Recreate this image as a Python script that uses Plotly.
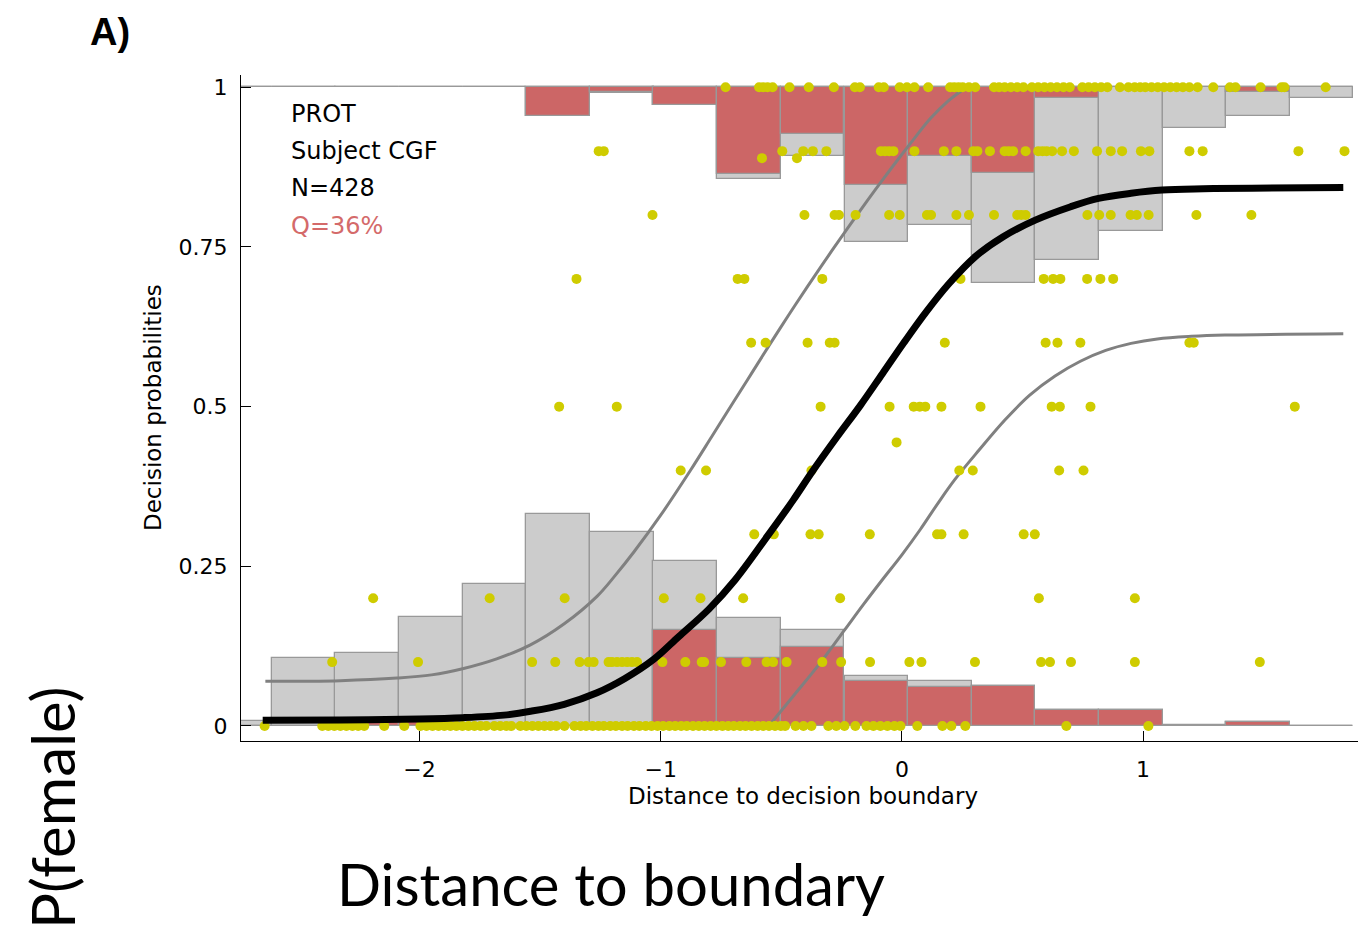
import plotly.graph_objects as go

# ---- histogram bins (distance to decision boundary) ----
bin_width = 0.2638
bin_centers = [-2.744, -2.480, -2.217, -1.953, -1.689, -1.425, -1.161, -0.898, -0.634,
               -0.370, -0.106, 0.158, 0.421, 0.685, 0.949, 1.213, 1.477, 1.740]
# bars rising from 0
low_all = [0.008, 0.106, 0.115, 0.170, 0.223, 0.332, 0.304, 0.259, 0.169,
           0.151, 0.079, 0.070, 0.062, 0.025, 0.025, 0.002, 0.007, 0.0]
low_red = [0.0, 0.0, 0.006, 0.006, 0.0, 0.0, 0.0, 0.150, 0.106,
           0.124, 0.070, 0.061, 0.062, 0.025, 0.025, 0.0, 0.007, 0.0]
# bars hanging from 1
high_all = [0.0, 0.0, 0.0, 0.0, 0.0, 0.045, 0.009, 0.027, 0.144,
            0.108, 0.243, 0.216, 0.307, 0.270, 0.225, 0.063, 0.045, 0.017]
high_red = [0.0, 0.0, 0.0, 0.0, 0.0, 0.045, 0.007, 0.027, 0.136,
            0.073, 0.153, 0.108, 0.135, 0.017, 0.0, 0.0, 0.008, 0.0]

# ---- fitted psychometric curve and its bounds ----
fit_x = [-2.65, -2.33, -2.0, -1.82, -1.65, -1.54, -1.40, -1.264, -1.15, -1.03, -0.925,
         -0.80, -0.691, -0.556, -0.45, -0.372, -0.27, -0.172, -0.08, 0.008, 0.10, 0.194,
         0.305, 0.42, 0.553, 0.70, 0.815, 0.95, 1.079, 1.25, 1.45, 1.83]
fit_y = [0.009, 0.0095, 0.011, 0.013, 0.017, 0.023, 0.034, 0.052, 0.074, 0.104, 0.140,
         0.183, 0.229, 0.298, 0.354, 0.398, 0.452, 0.502, 0.552, 0.600, 0.648, 0.692,
         0.735, 0.766, 0.792, 0.813, 0.826, 0.834, 0.839, 0.841, 0.842, 0.843]
upper_x = [-2.639, -2.328, -2.093, -1.95, -1.817, -1.68, -1.540, -1.40, -1.264, -1.19,
           -1.112, -1.0, -0.877, -0.79, -0.697, -0.62, -0.545, -0.47, -0.393, -0.283,
           -0.144, -0.07, -0.006, 0.06, 0.118, 0.19, 0.256]
upper_y = [0.070, 0.071, 0.075, 0.080, 0.090, 0.105, 0.127, 0.160, 0.203, 0.235,
           0.272, 0.330, 0.400, 0.452, 0.508, 0.554, 0.599, 0.643, 0.687, 0.748,
           0.822, 0.860, 0.892, 0.924, 0.951, 0.978, 0.997]
lower_x = [-0.552, -0.45, -0.34, -0.238, -0.16, -0.081, 0.0, 0.077, 0.15, 0.22, 0.32,
           0.427, 0.53, 0.635, 0.74, 0.845, 0.95, 1.059, 1.2, 1.339, 1.83]
lower_y = [0.0, 0.047, 0.098, 0.150, 0.190, 0.229, 0.268, 0.308, 0.349, 0.386, 0.432,
           0.479, 0.518, 0.548, 0.571, 0.588, 0.599, 0.606, 0.610, 0.612, 0.614]

# ---- per-stimulus response proportions ----
levels = [1.0, 0.9, 0.889, 0.8, 0.7, 0.6, 0.5, 0.444, 0.4, 0.3, 0.2, 0.1, 0.0]
x_p100 = [-0.731, -0.592, -0.575, -0.557, -0.536, -0.466, -0.386, -0.282, -0.195, -0.174,
          -0.096, -0.075, -0.009, 0.021, 0.052, 0.109, 0.200, 0.217, 0.235, 0.252, 0.278,
          0.304, 0.382, 0.403, 0.426, 0.452, 0.478, 0.504, 0.539, 0.565, 0.591, 0.617,
          0.643, 0.670, 0.696, 0.748, 0.774, 0.800, 0.826, 0.852, 0.904, 0.939, 0.965,
          0.988, 1.009, 1.035, 1.061, 1.087, 1.113, 1.139, 1.165, 1.192, 1.226, 1.291,
          1.360, 1.383, 1.487, 1.574, 1.586, 1.757]
x_p90 = [-1.257, -1.236, -0.496, -0.409, -0.369, -0.313, -0.087, -0.070, -0.053, -0.035,
         0.052, 0.174, 0.226, 0.296, 0.313, 0.365, 0.426, 0.443, 0.461, 0.513, 0.565,
         0.583, 0.600, 0.623, 0.664, 0.713, 0.809, 0.866, 0.913, 0.991, 1.026, 1.192,
         1.247, 1.644, 1.835]
x_p89 = [-0.580, -0.435]
x_p80 = [-1.034, -0.404, -0.279, -0.261, -0.192, -0.053, -0.009, 0.104, 0.121, 0.226,
         0.278, 0.382, 0.478, 0.495, 0.513, 0.769, 0.818, 0.866, 0.948, 0.974, 1.023,
         1.221, 1.449]
x_p70 = [-1.349, -0.681, -0.653, -0.330, 0.243, 0.588, 0.627, 0.657, 0.768, 0.823, 0.876]
x_p60 = [-0.625, -0.565, -0.391, -0.299, -0.279, 0.178, 0.596, 0.645, 0.740, 1.192, 1.210]
x_p50 = [-1.421, -1.182, -0.337, -0.051, 0.049, 0.074, 0.097, 0.164, 0.326, 0.621,
         0.655, 0.782, 1.629]
x_p44 = [-0.022]
x_p40 = [-0.917, -0.812, -0.375, 0.238, 0.294, 0.652, 0.753]
x_p30 = [-0.612, -0.531, -0.379, -0.345, -0.133, 0.146, 0.164, 0.256, 0.505, 0.551]
x_p20 = [-2.192, -1.709, -1.398, -0.987, -0.835, -0.658, -0.256, 0.568, 0.966]
x_p10 = [-2.362, -2.006, -1.533, -1.437, -1.336, -1.299, -1.278, -1.216, -1.202, -1.181,
         -1.160, -1.139, -1.119, -1.098, -0.993, -0.898, -0.830, -0.820, -0.750, -0.645,
         -0.561, -0.534, -0.478, -0.330, -0.252, -0.132, 0.031, 0.081, 0.303, 0.577,
         0.614, 0.701, 0.966, 1.484]
x_p0 = [-2.642,
        -2.403, -2.378, -2.353, -2.328, -2.303, -2.278, -2.254, -2.229,
        -2.146, -2.063,
        -1.996, -1.971, -1.946, -1.921, -1.897, -1.872, -1.847, -1.822, -1.797, -1.772,
        -1.747, -1.723,
        -1.690, -1.665, -1.640, -1.619,
        -1.582, -1.557, -1.532, -1.507, -1.482, -1.457, -1.433, -1.399,
        -1.358, -1.332, -1.309, -1.283, -1.258, -1.236, -1.209, -1.186, -1.160, -1.137,
        -1.111, -1.088, -1.062, -1.038, -1.013, -0.990, -0.964, -0.940, -0.915, -0.892,
        -0.866, -0.842, -0.818, -0.793, -0.769, -0.744, -0.720, -0.697, -0.671, -0.648,
        -0.623, -0.598, -0.575, -0.551, -0.526, -0.502, -0.484,
        -0.441, -0.408, -0.375, -0.305, -0.272, -0.238, -0.193, -0.147, -0.118, -0.089,
        -0.060, -0.031, -0.006, 0.064, 0.168, 0.205, 0.263, 0.682, 1.022]
rows = [x_p100, x_p90, x_p89, x_p80, x_p70, x_p60, x_p50, x_p44, x_p40, x_p30,
        x_p20, x_p10, x_p0]

tick_vals_x = [-2, -1, 0, 1]
tick_vals_y = [0, 0.25, 0.5, 0.75, 1]
tick_text_y = ["0", "0.25", "0.5", "0.75", "1"]

GRAY_FILL = "#cccccc"
RED_FILL = "#cc6666"
EDGE = "#999999"
DOT = "#cfcc00"
TXT_FONT = "DejaVu Sans"

fig = go.Figure()

edge = dict(color=EDGE, width=1.3)
fig.add_bar(x=bin_centers, y=low_all, width=bin_width,
            marker=dict(color=GRAY_FILL, line=edge, opacity=1))
fig.add_bar(x=bin_centers, y=low_red, width=bin_width,
            marker=dict(color=RED_FILL, line=edge, opacity=1))
fig.add_bar(x=bin_centers, y=high_all, base=[1 - d for d in high_all], width=bin_width,
            marker=dict(color=GRAY_FILL, line=edge, opacity=1))
fig.add_bar(x=bin_centers, y=high_red, base=[1 - d for d in high_red], width=bin_width,
            marker=dict(color=RED_FILL, line=edge, opacity=1))

curve_gray = dict(color="#808080", width=3, shape="spline", smoothing=1.0)
fig.add_scatter(x=upper_x, y=upper_y, mode="lines", line=curve_gray)
fig.add_scatter(x=lower_x, y=lower_y, mode="lines", line=curve_gray)

dot_x, dot_y = [], []
for lvl, xs in zip(levels, rows):
    dot_x += xs
    dot_y += [lvl] * len(xs)
fig.add_scatter(x=dot_x, y=dot_y, mode="markers",
                marker=dict(color=DOT, size=10, line=dict(width=0)))

fig.add_scatter(x=fit_x, y=fit_y, mode="lines",
                line=dict(color="black", width=7, shape="spline", smoothing=1.0))

# ---- layout ----
L, T, W, H = 241, 75, 1117, 666
fig.update_layout(
    width=1358, height=935,
    margin=dict(l=L, r=1358 - L - W, t=T, b=935 - T - H, pad=0),
    paper_bgcolor="white", plot_bgcolor="white",
    barmode="overlay", bargap=0, showlegend=False,
    font=dict(family=TXT_FONT, color="black"),
)
fig.update_xaxes(range=[-2.74, 1.891], tickvals=tick_vals_x, ticks="inside", ticklen=10,
                 tickwidth=1.3, tickcolor="black", showline=True, linecolor="black",
                 linewidth=1.3, showgrid=False, zeroline=False,
                 tickfont=dict(family=TXT_FONT, size=22, color="black"),
                 ticklabelstandoff=8)
fig.update_yaxes(range=[-0.0235, 1.0192], tickvals=tick_vals_y, ticktext=tick_text_y,
                 ticks="inside", ticklen=10, tickwidth=1.3, tickcolor="black",
                 showline=True, linecolor="black", linewidth=1.3, showgrid=False,
                 zeroline=False, tickfont=dict(family=TXT_FONT, size=22, color="black"),
                 ticklabelstandoff=8)


def px_x(p):
    return (p - L) / W


def px_y(p):
    return (T + H - p) / H


annots = [
    dict(text="A)", x=px_x(110), y=px_y(32),
         font=dict(family="Liberation Sans", size=38, color="black", weight="bold")),
    dict(text="Decision probabilities", x=px_x(153), y=px_y(408), textangle=-90,
         font=dict(family=TXT_FONT, size=23, color="black")),
    dict(text="Distance to decision boundary", x=px_x(803), y=px_y(796),
         font=dict(family=TXT_FONT, size=23, color="black")),
    dict(text="Distance to boundary", x=px_x(611), y=px_y(883),
         font=dict(family="Lato", size=58, color="black")),
    dict(text="P(female)", x=px_x(52), y=px_y(808), textangle=-90,
         font=dict(family="Lato", size=60, color="black")),
]
for a in annots:
    fig.add_annotation(xref="paper", yref="paper", showarrow=False,
                       xanchor="center", yanchor="middle", **a)

info_lines = [("PROT", 114, "black"), ("Subject CGF", 151, "black"),
              ("N=428", 188.5, "black"), ("Q=36%", 226, "#d46a6a")]
for txt, ypix, col in info_lines:
    fig.add_annotation(xref="paper", yref="paper", showarrow=False, text=txt,
                       x=px_x(289), y=px_y(ypix), xanchor="left", yanchor="middle",
                       font=dict(family=TXT_FONT, size=24, color=col))

fig.write_html("out.html")
